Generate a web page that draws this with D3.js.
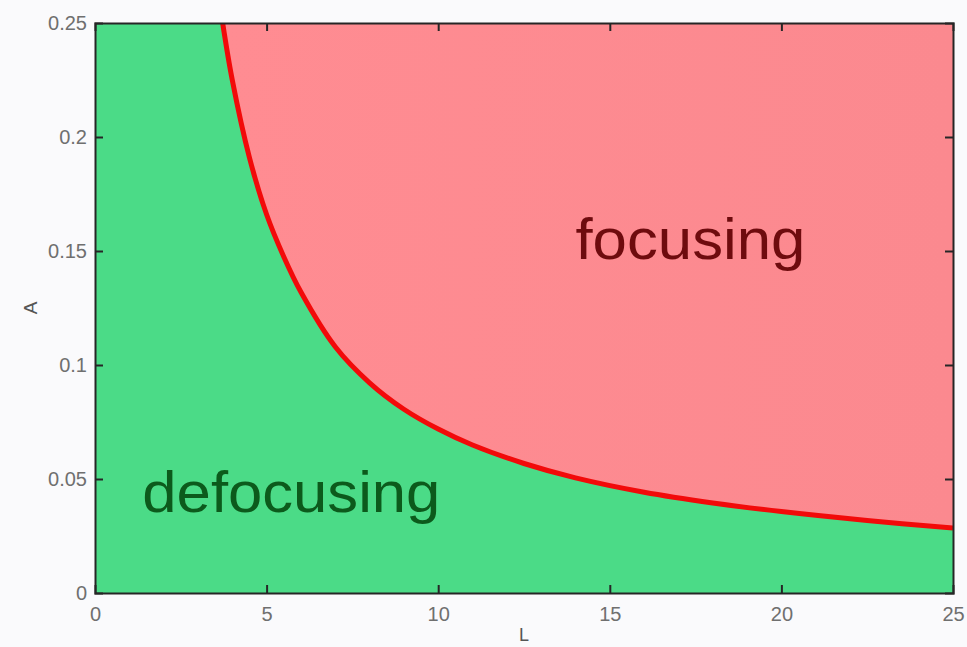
<!DOCTYPE html>
<html>
<head>
<meta charset="utf-8">
<script src="https://cdn.jsdelivr.net/npm/d3@7"></script>
<style>
  html, body { margin: 0; padding: 0; background: #fafafc; }
  svg { display: block; }
  text { font-family: "Liberation Sans", Arial, sans-serif; }
</style>
</head>
<body>
<svg id="chart" width="967" height="647"></svg>
<script>
// Boundary between the two regimes: amplitude A as a function of length L
const boundaryL = [3.72, 4.0, 4.5, 5.0, 5.5, 6.0, 7.0, 8.0, 9.0, 10.0, 11.0, 12.5, 14.0, 16.0, 18.0, 20.0, 22.5, 25.0];
const boundaryA = [0.250, 0.225, 0.191, 0.166, 0.1475, 0.132, 0.108, 0.0922, 0.0806, 0.0719, 0.0649, 0.0568, 0.0505, 0.0442, 0.0395, 0.0357, 0.0318, 0.0285];

const xTicks = [0, 5, 10, 15, 20, 25];
const yTicks = [0, 0.05, 0.1, 0.15, 0.2, 0.25];
const xLabel = "L";
const yLabel = "A";
const regionLabels = ["focusing", "defocusing"];

const svg = d3.select("#chart");
const margin = { left: 95, right: 14, top: 23, bottom: 54 };
const W = 967, H = 647;

const x = d3.scaleLinear().domain([0, 25]).range([margin.left, W - margin.right]);
const y = d3.scaleLinear().domain([0, 0.25]).range([H - margin.bottom, margin.top]);

const pts = boundaryL.map((l, i) => ({ L: l, A: boundaryA[i] }));

const defs = svg.append("defs");
defs.append("clipPath").attr("id", "plotClip")
  .append("rect")
  .attr("x", x(0)).attr("y", y(0.25))
  .attr("width", x(25) - x(0)).attr("height", y(0) - y(0.25));

const plot = svg.append("g").attr("clip-path", "url(#plotClip)");

// defocusing region (whole box), focusing region painted above the boundary
plot.append("rect")
  .attr("x", x(0)).attr("y", y(0.25))
  .attr("width", x(25) - x(0)).attr("height", y(0) - y(0.25))
  .attr("fill", "#4bdb87");

const grad = defs.append("linearGradient").attr("id", "pinkGrad")
  .attr("x1", "0%").attr("x2", "100%");
grad.append("stop").attr("offset", "0%").attr("stop-color", "#ff8c92");
grad.append("stop").attr("offset", "100%").attr("stop-color", "#fb898f");

const curve = d3.curveCatmullRom.alpha(0.5);

plot.append("path")
  .datum(pts)
  .attr("fill", "url(#pinkGrad)")
  .attr("d", d3.area()
    .x(d => x(d.L))
    .y0(d => y(d.A))
    .y1(y(0.25))
    .curve(curve));

plot.append("path")
  .datum(pts)
  .attr("fill", "none")
  .attr("stroke", "#f20a0a")
  .attr("stroke-width", 5)
  .attr("d", d3.line()
    .x(d => x(d.L))
    .y(d => y(d.A))
    .curve(curve));

// region labels
plot.append("text")
  .attr("x", x(14)).attr("y", 259)
  .attr("font-size", 57)
  .attr("fill", "#6e0b0e")
  .attr("textLength", 230)
  .attr("lengthAdjust", "spacingAndGlyphs")
  .text(regionLabels[0]);

plot.append("text")
  .attr("x", x(1.38)).attr("y", 512)
  .attr("font-size", 58)
  .attr("fill", "#0c5a1c")
  .attr("textLength", 298)
  .attr("lengthAdjust", "spacingAndGlyphs")
  .text(regionLabels[1]);

// axes: ticks pointing inward on all four sides
const tickLen = 8;
const fmtY = d => d === 0 ? "0" : String(d);
const axisColor = "#262626";

const axBottom = svg.append("g").attr("transform", `translate(0,${y(0)})`)
  .call(d3.axisBottom(x).tickValues(xTicks).tickSize(-tickLen).tickPadding(14).tickFormat(d3.format("d")));
const axTop = svg.append("g").attr("transform", `translate(0,${y(0.25)})`)
  .call(d3.axisTop(x).tickValues(xTicks).tickSize(-tickLen).tickFormat(""));
const axLeft = svg.append("g").attr("transform", `translate(${x(0)},0)`)
  .call(d3.axisLeft(y).tickValues(yTicks).tickSize(-tickLen).tickPadding(8).tickFormat(fmtY));
const axRight = svg.append("g").attr("transform", `translate(${x(25)},0)`)
  .call(d3.axisRight(y).tickValues(yTicks).tickSize(-tickLen).tickFormat(""));

[axBottom, axTop, axLeft, axRight].forEach(g => {
  g.select(".domain").attr("stroke", axisColor).attr("stroke-width", 2);
  g.selectAll(".tick line").attr("stroke", axisColor).attr("stroke-width", 2);
  g.selectAll(".tick text")
    .attr("fill", "#6f6f6f")
    .attr("font-size", 20)
    .attr("font-family", "Liberation Sans, Arial, sans-serif");
});
// tick marks sitting on the box corners are covered by the frame
[axBottom, axTop].forEach(g => g.selectAll(".tick").filter(d => d === 0 || d === 25).select("line").remove());
[axLeft, axRight].forEach(g => g.selectAll(".tick").filter(d => d === 0 || d === 0.25).select("line").remove());

// axis titles
svg.append("text")
  .attr("x", (x(0) + x(25)) / 2)
  .attr("y", 641)
  .attr("text-anchor", "middle")
  .attr("font-size", 18)
  .attr("fill", "#555")
  .text(xLabel);

svg.append("text")
  .attr("transform", `translate(37,${(y(0) + y(0.25)) / 2}) rotate(-90)`)
  .attr("text-anchor", "middle")
  .attr("font-size", 19)
  .attr("fill", "#555")
  .text(yLabel);
</script>
</body>
</html>
